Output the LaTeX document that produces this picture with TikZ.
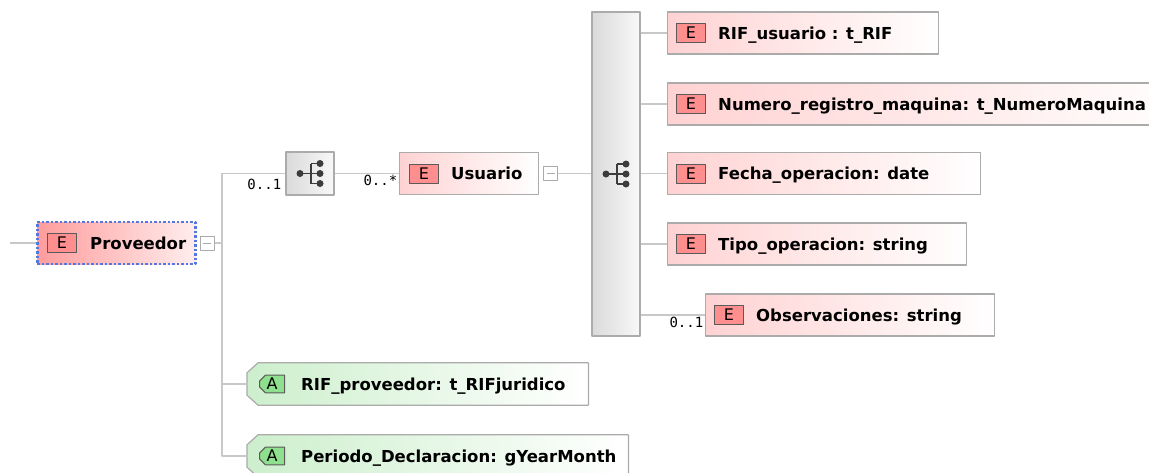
\documentclass[tikz,border=0pt]{standalone}
\usepackage{fontspec}
\setmainfont{DejaVu Sans}
\newfontfamily\cardfont{DejaVu Sans Mono}
\usepackage{tikz}
\usetikzlibrary{positioning}
\usetikzlibrary{shapes.misc}
\definecolor{LineGray}{HTML}{C8C8C8}
\definecolor{BoxGray}{HTML}{ABABAB}
\definecolor{ElemPink}{HTML}{FFD2D2}
\definecolor{SelPink}{HTML}{FF9C9C}
\definecolor{SelPinkR}{HTML}{FFEDED}
\definecolor{BadgeRed}{HTML}{FF8E8E}
\definecolor{BadgeLine}{HTML}{5A5A5A}
\definecolor{AttrGreen}{HTML}{CDEFCD}
\definecolor{BadgeGreen}{HTML}{8EE08E}
\definecolor{SeqGray}{HTML}{DADADA}
\definecolor{SeqLight}{HTML}{F8F8F8}
\definecolor{IconGray}{HTML}{3C3C3C}
\definecolor{SelBlue}{HTML}{5577E0}

\begin{document}
\begin{tikzpicture}[x=1pt,y=-1pt,line join=round,
  conn/.style={draw=LineGray,line width=1.5pt},
  elbox/.style={draw=BoxGray,line width=1.2pt,left color=ElemPink,right color=white,
    minimum height=42pt,inner sep=0pt,anchor=west},
  selbox/.style={elbox,draw=SelBlue,line width=2.5pt,dash pattern=on 2.5pt off 2pt,
    left color=SelPink,right color=SelPinkR},
  atframe/.style={rectangle,minimum height=42pt,inner sep=0pt,anchor=west},
  atline/.style={draw=BoxGray,line width=1.2pt,left color=AttrGreen,right color=white},
  ebadge/.style={draw=BadgeLine,line width=1pt,fill=BadgeRed,minimum width=29pt,
    minimum height=19pt,inner sep=0pt,anchor=west,font=\fontsize{16}{16}\selectfont},
  abadge/.style={ebadge,fill=BadgeGreen,minimum width=25pt,minimum height=16pt,
    chamfered rectangle,chamfered rectangle corners={north west,south west},
    chamfered rectangle sep=3pt},
  tag/.style={anchor=west,inner sep=0pt,text height=12pt,text depth=0pt,
    font=\fontsize{16.5}{18}\selectfont\bfseries},
  card/.style={inner sep=1pt,font=\cardfont\fontsize{14}{14}\selectfont},
  seqbox/.style={draw=BoxGray,line width=1.2pt,left color=SeqGray,right color=SeqLight,
    minimum width=48pt,inner sep=0pt},
  fold/.style={draw=BoxGray,line width=1pt,fill=white,minimum size=14pt,inner sep=0pt,
    path picture={\draw[BoxGray,line width=1pt] (path picture bounding box.center) ++(-4pt,0) -- ++(8pt,0);}},
  seqicon/.pic={
    \draw[IconGray,line width=1.6pt] (-10,0) -- (1,0) (1,-10) -- (1,10)
      (1,-10) -- (10,-10) (1,0) -- (10,0) (1,10) -- (10,10);
    \fill[IconGray] (-10,0) circle (3.5pt);
    \foreach \yy in {-10,0,10}
      \fill[IconGray] (10,\yy) circle (3.5pt);
  }]
\useasboundingbox (0,0) rectangle (1149,472);
\clip (0,0) rectangle (1149,472);

% root element
\coordinate (in) at (10,243);
\node[selbox,minimum width=158pt] (prov) at (36,243) {};
\node[ebadge,right=11pt of prov.west] (prov-E) {E};
\node[tag,right=13pt of prov-E] (prov-t) {Proveedor};
\node[fold,right=3pt of prov] (prov-f) {};
\coordinate (trunk) at (222,243);

% sequence and Usuario
\node[seqbox,minimum height=43pt] (seq1) at (310,173.5) {};
\pic at (seq1) {seqicon};
\node[elbox,minimum width=139pt] (usr) at (399,173.5) {};
\node[ebadge,right=10pt of usr.west] (usr-E) {E};
\node[tag,right=12pt of usr-E] (usr-t) {Usuario};
\node[fold,right=4pt of usr] (usr-f) {};
\node[seqbox,minimum height=324pt] (seq2) at (616,174) {};
\pic at (seq2) {seqicon};

% children of Usuario
\foreach \n/\x/\y/\w/\t in {rifusr/667/33/271/RIF\_usuario : t\_RIF,
    numreg/667/104/520/Numero\_registro\_maquina: t\_NumeroMaquina,
    fecha/667/173.5/313/Fecha\_operacion: date,
    tipo/667/244/299/Tipo\_operacion: string,
    obs/705/315/289/Observaciones: string}{
  \node[elbox,minimum width=\w pt] (\n) at (\x,\y) {};
  \node[ebadge,right=9pt of \n.west] (\n-E) {E};
  \node[tag,right=12pt of \n-E] (\n-t) {\t};
}
\foreach \n in {rifusr,numreg,fecha,tipo}
  \draw[conn] (seq2.east |- \n) -- (\n);
\draw[conn] (seq2.east |- obs) -- (obs) node[card,pos=1,below left] (obs-c) {0..1};

% attributes
\foreach \n/\y/\w/\t in {rifprov/384/341/RIF\_proveedor: t\_RIFjuridico,
    periodo/456/381/Periodo\_Declaracion: gYearMonth}{
  \node[atframe,minimum width=\w pt] (\n) at (247,\y) {};
  \path[atline] ([xshift=11pt]\n.north west) -- (\n.north east) -- (\n.south east)
    -- ([xshift=11pt]\n.south west) -- ([yshift=10pt]\n.south west)
    -- ([yshift=-10pt]\n.north west) -- cycle;
  \node[abadge,right=12pt of \n.west] (\n-A) {A};
  \node[tag,right=16pt of \n-A] (\n-t) {\t};
}

% connectors
\draw[conn] (in) -- (prov);
\draw[conn] (prov-f) -- (trunk);
\draw[conn] (seq1) -| (trunk |- periodo) -- (periodo);
\draw[conn] (trunk |- rifprov) -- (rifprov);
\node[card,below left=4pt and 3pt of seq1.west] (seq1-c) {0..1};
\draw[conn] (seq1) -- (usr) node[card,pos=1,below left] (usr-c) {0..*};
\draw[conn] (usr-f) -- (usr-f -| seq2.west);
\end{tikzpicture}
\end{document}
